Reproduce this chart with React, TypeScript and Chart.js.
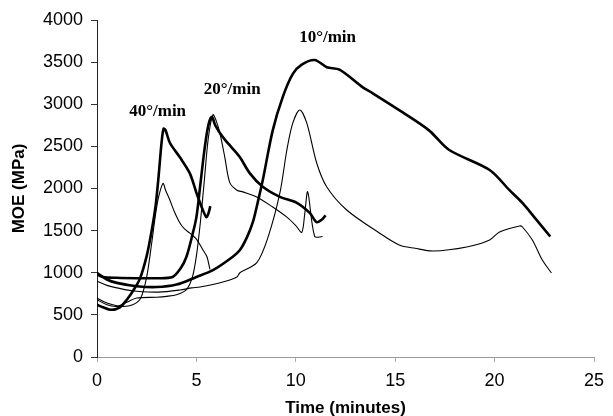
import React, { useEffect, useRef } from 'react';
import { Chart, registerables } from 'chart.js';

Chart.register(...registerables);

// Heating rate 40°/min – thick run
const t40a = [0, 0.3, 0.7, 1.15, 1.5, 1.8, 2.16, 2.5, 2.75, 2.95, 3.1, 3.25, 3.35, 3.45, 3.67, 4.17, 4.67, 5.0, 5.3, 5.5, 5.6, 5.7];
const moe40a = [620, 590, 560, 590, 680, 780, 930, 1200, 1500, 1800, 2150, 2550, 2710, 2690, 2540, 2370, 2180, 1950, 1760, 1660, 1700, 1790];

// Heating rate 40°/min – thin run
const t40b = [0, 0.5, 1.2, 1.8, 2.2, 2.5, 2.75, 2.95, 3.1, 3.32, 3.45, 3.67, 3.9, 4.17, 4.4, 4.67, 5.0, 5.33, 5.53, 5.68];
const moe40b = [700, 640, 600, 620, 700, 950, 1350, 1700, 1900, 2060, 1980, 1860, 1720, 1590, 1520, 1470, 1400, 1270, 1190, 1040];

// Heating rate 20°/min – thick run
const t20a = [0, 0.3, 1, 2, 3, 3.8, 4.2, 4.5, 4.8, 5.0, 5.2, 5.4, 5.6, 5.78, 5.95, 6.33, 6.8, 7.19, 7.69, 8.34, 9.2, 10.05, 10.7, 11.05, 11.3, 11.5];
const moe20a = [980, 950, 940, 935, 935, 950, 1050, 1190, 1450, 1660, 2050, 2450, 2750, 2850, 2750, 2610, 2480, 2370, 2180, 2020, 1900, 1830, 1710, 1600, 1630, 1680];

// Heating rate 20°/min – thin run
const t20b = [0, 0.5, 1.0, 1.5, 2, 3, 3.5, 4, 4.5, 4.8, 5.0, 5.2, 5.4, 5.6, 5.83, 6.0, 6.18, 6.43, 6.68, 7.04, 7.34, 8.04, 8.84, 9.55, 10.0, 10.3, 10.45, 10.6, 10.95, 11.35];
const moe20b = [680, 620, 600, 650, 700, 710, 720, 740, 800, 950, 1200, 1600, 2100, 2600, 2875, 2800, 2660, 2370, 2070, 1980, 1960, 1900, 1780, 1660, 1560, 1480, 1700, 1960, 1430, 1430];

// Heating rate 10°/min – thick run
const t10a = [0, 0.5, 1, 2, 3, 4, 5, 5.83, 6.83, 7.19, 7.54, 7.84, 8.1, 8.34, 8.84, 9.35, 9.85, 10.3, 10.95, 11.56, 12.2, 13.37, 13.87, 15.4, 16.7, 17.7, 19.75, 20.75, 21.4, 22.1, 22.8];
const moe10a = [1000, 920, 880, 840, 830, 860, 950, 1030, 1190, 1270, 1420, 1600, 1850, 2100, 2690, 3090, 3360, 3470, 3525, 3440, 3410, 3200, 3130, 2900, 2690, 2460, 2220, 1980, 1830, 1630, 1430];

// Heating rate 10°/min – thin run
const t10b = [0, 0.5, 1.4, 2, 3.1, 4.17, 4.77, 5.18, 6.33, 7.04, 7.19, 8.04, 8.6, 9.2, 9.55, 9.85, 10.2, 10.55, 11.05, 11.56, 12.56, 14.2, 15.2, 16.0, 16.9, 18.6, 19.75, 20.25, 21.26, 21.4, 21.9, 22.4, 22.86];
const moe10b = [900, 850, 800, 780, 770, 795, 820, 830, 890, 950, 1000, 1120, 1420, 1947, 2457, 2778, 2932, 2778, 2303, 2018, 1745, 1472, 1330, 1290, 1258, 1306, 1389, 1484, 1555, 1543, 1389, 1151, 997];

// Annotation labels (text + anchor in data units)
const labelTexts = ['40°/min', '20°/min', '10°/min'];
const labelTimes = [3.05, 6.8, 11.6];
const labelMoe = [2908, 3170, 3787];

const xTickStep = 5;
const yTickStep = 500;

const zip = (xs: number[], ys: number[]) => xs.map((x, i) => ({ x, y: ys[i] }));

const labelPlugin = {
  id: 'rateLabels',
  afterDatasetsDraw(chart: any) {
    const { ctx, scales } = chart;
    const xs = scales.x;
    const ys = scales.y;
    ctx.save();
    ctx.font = 'bold 17px "Liberation Serif"';
    ctx.fillStyle = '#000';
    ctx.textAlign = 'center';
    ctx.textBaseline = 'middle';
    labelTexts.forEach((t, i) => {
      ctx.fillText(t, xs.getPixelForValue(labelTimes[i]), ys.getPixelForValue(labelMoe[i]));
    });
    ctx.restore();
  },
};

export default function App() {
  const ref = useRef<HTMLCanvasElement>(null);

  useEffect(() => {
    if (!ref.current) return;
    const thick = { borderColor: '#000', borderWidth: 2.6, pointRadius: 0, tension: 0.3, fill: false };
    const thin = { borderColor: '#000', borderWidth: 1.1, pointRadius: 0, tension: 0.3, fill: false };
    const chart = new Chart(ref.current, {
      type: 'line',
      data: {
        datasets: [
          { label: '40 thick', data: zip(t40a, moe40a), ...thick },
          { label: '40 thin', data: zip(t40b, moe40b), ...thin },
          { label: '20 thick', data: zip(t20a, moe20a), ...thick },
          { label: '20 thin', data: zip(t20b, moe20b), ...thin },
          { label: '10 thick', data: zip(t10a, moe10a), ...thick },
          { label: '10 thin', data: zip(t10b, moe10b), ...thin },
        ],
      },
      options: {
        responsive: false,
        animation: false,
        layout: { padding: { left: 5, top: 20, right: 19, bottom: 0 } },
        plugins: { legend: { display: false }, tooltip: { enabled: false } },
        scales: {
          x: {
            type: 'linear',
            min: 0,
            max: 25,
            ticks: { stepSize: xTickStep, color: '#000', font: { family: 'Liberation Sans', size: 18 }, padding: 8, callback: (v: any) => String(v) },
            grid: { drawOnChartArea: false, tickLength: 5, color: '#aaa' },
            border: { color: '#999', dash: [2, 3], width: 1 },
            title: { display: true, text: 'Time (minutes)', color: '#000', font: { family: 'Liberation Sans', size: 17, weight: 'bold' }, padding: { top: 0, bottom: -3 } },
            afterFit: (s: any) => { s.height = 59; },
          },
          y: {
            min: 0,
            max: 4000,
            ticks: { stepSize: yTickStep, color: '#000', font: { family: 'Liberation Sans', size: 18 }, padding: 8, callback: (v: any) => String(v) },
            grid: { drawOnChartArea: false, tickLength: 6, color: '#333' },
            border: { color: '#222', width: 1 },
            title: { display: true, text: 'MOE (MPa)', color: '#000', font: { family: 'Liberation Sans', size: 17, weight: 'bold' }, padding: { top: 4, bottom: 4 } },
            afterFit: (s: any) => { s.width = 92; },
          },
        },
      },
      plugins: [labelPlugin],
    });
    return () => chart.destroy();
  }, []);

  return (
    <div style={{ position: 'absolute', left: 0, top: 0, width: 613, height: 416, background: '#fff' }}>
      <canvas ref={ref} width={613} height={416} style={{ width: 613, height: 416 }} />
    </div>
  );
}
